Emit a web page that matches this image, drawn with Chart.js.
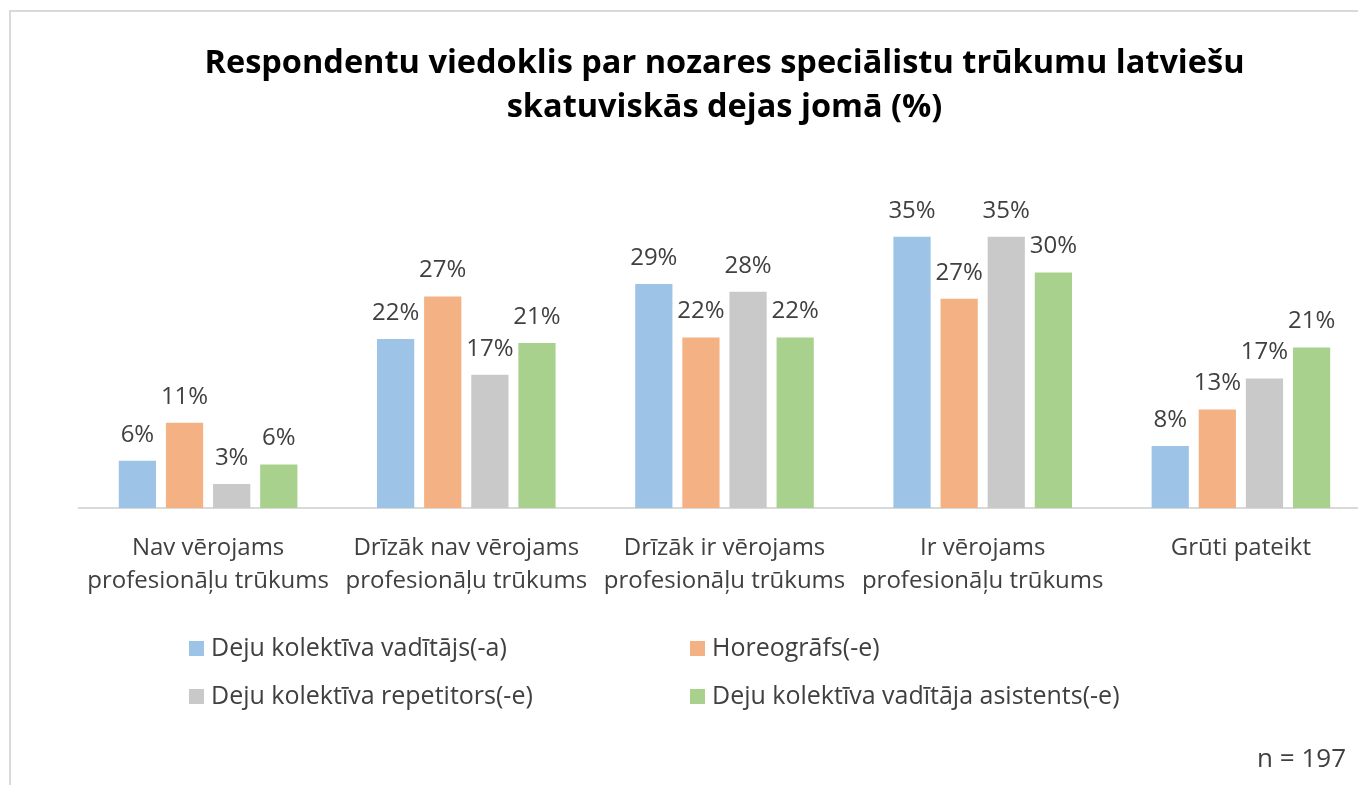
<!DOCTYPE html>
<html lang="lv">
<head>
    <meta charset="UTF-8">
    <title>Respondentu viedoklis</title>
    <script src="https://cdn.jsdelivr.net/npm/chart.js"></script>
    <style>
        html, body { margin: 0; padding: 0; background: #fff; overflow: hidden; }
        canvas { display: block; }
    </style>
</head>
<body>
    <canvas id="chart" width="1372" height="785"></canvas>

    <script>
        // Data (%)
        const categories = [
            ['Nav vērojams', 'profesionāļu trūkums'],
            ['Drīzāk nav vērojams', 'profesionāļu trūkums'],
            ['Drīzāk ir vērojams', 'profesionāļu trūkums'],
            ['Ir vērojams', 'profesionāļu trūkums'],
            ['Grūti pateikt']
        ];
        const seriesNames = [
            'Deju kolektīva vadītājs(-a)',
            'Horeogrāfs(-e)',
            'Deju kolektīva repetitors(-e)',
            'Deju kolektīva vadītāja asistents(-e)'
        ];
        const vaditajs = [6.1, 21.8, 28.9, 35, 8.0];
        const horeografs = [11, 27.3, 22, 27, 12.7];
        const repetitors = [3.1, 17.2, 27.9, 35, 16.7];
        const asistents = [5.6, 21.3, 22, 30.4, 20.7];
        const colors = ['#9dc3e6', '#f4b183', '#c9c9c9', '#a9d18e'];
        const sampleNote = 'n = 197';

        const textColor = '#404040';
        const fontFamily = '"Open Sans", "Noto Sans", sans-serif';

        // Frame round the chart
        const framePlugin = {
            id: 'frame',
            beforeDraw(chart) {
                const ctx = chart.ctx;
                ctx.save();
                ctx.strokeStyle = '#d9d9d9';
                ctx.lineWidth = 2;
                ctx.strokeRect(10, 11, chart.width + 20, chart.height + 20);
                ctx.restore();
            }
        };

        // Percent labels above each bar
        const valueLabels = {
            id: 'valueLabels',
            afterDatasetsDraw(chart) {
                const ctx = chart.ctx;
                ctx.save();
                ctx.fillStyle = textColor;
                ctx.font = '24px ' + fontFamily;
                ctx.textAlign = 'center';
                ctx.textBaseline = 'middle';
                chart.data.datasets.forEach((ds, i) => {
                    chart.getDatasetMeta(i).data.forEach((bar, j) => {
                        ctx.fillText(Math.round(ds.data[j]) + '%', bar.x, bar.y - 26);
                    });
                });
                ctx.restore();
            }
        };

        // Two-column legend and sample size note
        const gridLegend = {
            id: 'gridLegend',
            afterDraw(chart) {
                const ctx = chart.ctx;
                const cols = [189, 690];
                const rows = [649, 697];
                ctx.save();
                ctx.font = '25px ' + fontFamily;
                ctx.textBaseline = 'middle';
                chart.data.datasets.forEach((ds, i) => {
                    const x = cols[i % 2];
                    const y = rows[Math.floor(i / 2)];
                    ctx.fillStyle = ds.backgroundColor;
                    ctx.fillRect(x, y - 8, 15, 15);
                    ctx.fillStyle = textColor;
                    ctx.textAlign = 'left';
                    ctx.fillText(ds.label, x + 22, y);
                });
                ctx.font = '26px ' + fontFamily;
                ctx.textAlign = 'right';
                ctx.fillText(sampleNote, 1346, 760);
                ctx.restore();
            }
        };

        const seriesData = [vaditajs, horeografs, repetitors, asistents];

        new Chart(document.getElementById('chart'), {
            type: 'bar',
            data: {
                labels: categories,
                datasets: seriesNames.map((name, i) => ({
                    label: name,
                    data: seriesData[i],
                    backgroundColor: colors[i],
                    categoryPercentage: 0.73,
                    barPercentage: 0.79
                }))
            },
            options: {
                responsive: false,
                animation: false,
                layout: {
                    padding: { left: 79, right: 2, top: 0, bottom: 171 }
                },
                plugins: {
                    legend: { display: false },
                    tooltip: { enabled: false },
                    title: {
                        display: true,
                        text: [
                            'Respondentu viedoklis par nozares speciālistu trūkumu latviešu',
                            'skatuviskās dejas jomā (%)'
                        ],
                        color: '#000',
                        font: { family: fontFamily, size: 32.5, weight: 'bold', lineHeight: 1.355 },
                        padding: { top: 42, bottom: 68 }
                    }
                },
                scales: {
                    x: {
                        grid: { display: false },
                        border: { display: true, color: '#d9d9d9', width: 2 },
                        ticks: {
                            color: textColor,
                            font: { family: fontFamily, size: 24, lineHeight: 1.375 },
                            padding: 16,
                            maxRotation: 0,
                            autoSkip: false
                        }
                    },
                    y: {
                        display: false,
                        min: 0,
                        max: 40
                    }
                }
            },
            plugins: [framePlugin, valueLabels, gridLegend]
        });
    </script>
</body>
</html>
